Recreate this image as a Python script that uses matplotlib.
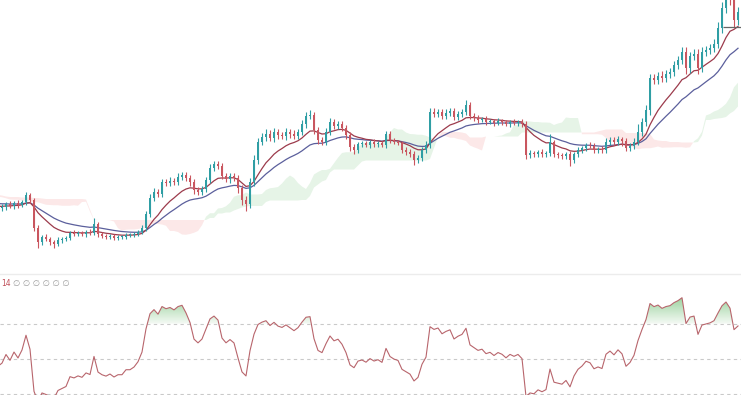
import numpy as np
import pandas as pd
import matplotlib
matplotlib.use("Agg")
import matplotlib.pyplot as plt
from matplotlib.path import Path

# closes before the visible window (warm-up for the indicators)
pre_closes = [108, 110, 107, 105, 109, 112, 110, 106, 104, 102,
              105, 103, 100, 98, 101, 99, 96, 94, 97, 95,
              93, 96, 94, 92, 95, 93, 90, 92, 94, 92]

closes = [93, 96, 94, 97, 95, 98, 105, 100, 72, 58,
          63, 61, 58, 56, 60, 61, 62, 67, 66, 67,
          66, 68, 67, 76, 66, 64, 63, 64, 62, 63,
          63, 65, 65, 66, 68, 72, 86, 102, 108, 106,
          118, 117, 119, 118, 123, 125, 122, 118, 110, 108,
          111, 120, 132, 136, 134, 124, 121, 124, 122, 112,
          100, 96, 118, 140, 158, 163, 166, 162, 168, 165,
          164, 168, 166, 164, 168, 176, 184, 185, 170, 160,
          158, 168, 178, 174, 176, 172, 165, 153, 150, 156,
          157, 155, 158, 156, 157, 155, 166, 160, 158, 157,
          150, 148, 146, 140, 142, 150, 155, 188, 186, 188,
          184, 187, 189, 183, 186, 188, 195, 184, 182, 180,
          181, 178, 179, 177, 179, 178, 176, 178, 177, 178,
          176, 145, 147, 146, 148, 146, 147, 158, 146, 145,
          144, 146, 140, 146, 150, 152, 155, 154, 150, 151,
          150, 158, 160, 158, 161, 159, 152, 154, 158, 168,
          178, 190, 222, 220, 224, 222, 226, 228, 235, 240,
          248, 232, 244, 246, 232, 248, 250, 252, 256, 272,
          292, 305, 300, 280, 288]

wick_up = [2, 3, 2, 3, 2, 3, 2, 2, 3, 2, 2, 3, 2, 2, 3, 2, 2, 3, 2, 2,
           3, 2, 2, 3, 2, 2, 3, 2, 2, 3,
           3, 2, 3, 2, 3, 2, 3, 2, 2, 3, 2, 3, 2, 2, 3, 2, 2, 2, 3, 2,
           2, 2, 3, 6, 2, 2, 2, 2, 2, 2, 2, 2, 2, 2, 2, 3, 3, 4, 4, 3,
           3, 3, 4, 3, 4, 3, 3, 3, 3, 3, 3, 3, 4, 3, 3, 3, 3, 3, 3, 3,
           3, 4, 4, 5, 4, 4, 5, 4, 4, 3, 3, 4, 3, 4, 3, 4, 4, 5, 3, 3,
           3, 4, 4, 3, 3, 3, 3, 3, 3, 2, 2, 2, 2, 3, 2, 2, 3, 3, 2, 2,
           2, 3, 3, 3, 3, 3, 4, 4, 4, 3, 3, 4, 3, 3, 3, 3, 5, 3, 3, 3,
           2, 3, 2, 2, 3, 2, 2, 2, 3, 2, 3, 3, 3, 2, 2, 3, 2, 8, 2, 2,
           2, 2, 3, 2, 3, 2, 2, 3, 3, 2, 3, 4, 3, 3, 3, 2, 3, 3, 4, 8,
           4, 5, 4, 4, 4, 5, 4, 4, 4, 4, 5, 5, 4, 5, 5, 5, 4, 4, 5, 6,
           6, 6, 6, 5, 5]

wick_dn = [3, 2, 2, 3, 2, 2, 3, 2, 3, 2, 3, 2, 2, 3, 2, 3, 2, 2, 3, 2,
           2, 3, 2, 2, 3, 2, 2, 3, 2, 2,
           3, 3, 2, 3, 3, 2, 3, 3, 3, 6, 3, 2, 3, 4, 2, 3, 2, 2, 2, 2,
           2, 3, 2, 2, 3, 2, 2, 2, 2, 2, 2, 2, 2, 2, 2, 2, 3, 3, 3, 3,
           3, 3, 3, 3, 3, 3, 3, 4, 4, 3, 3, 3, 3, 3, 3, 3, 3, 4, 3, 5,
           5, 7, 4, 4, 4, 3, 4, 3, 4, 4, 3, 4, 4, 3, 3, 3, 4, 3, 4, 4,
           3, 3, 3, 3, 3, 3, 4, 4, 4, 3, 3, 2, 3, 3, 3, 2, 3, 3, 2, 2,
           3, 3, 3, 5, 3, 3, 3, 3, 3, 3, 3, 3, 3, 3, 3, 3, 3, 3, 3, 3,
           2, 3, 2, 3, 2, 3, 2, 3, 2, 3, 3, 4, 3, 3, 3, 3, 3, 3, 3, 3,
           3, 3, 6, 3, 3, 3, 3, 2, 3, 3, 3, 3, 3, 3, 3, 5, 3, 3, 3, 3,
           4, 4, 5, 4, 4, 4, 4, 4, 4, 4, 4, 6, 5, 4, 6, 4, 4, 4, 4, 4,
           5, 5, 5, 8, 5]

price_line = 273

UP = "#2f9ea4"
DOWN = "#c9565f"

c = np.array(pre_closes + closes, dtype=float)
o = np.r_[pre_closes[0] - 1, c[:-1]]
hi = np.maximum(o, c) + np.array(wick_up)
lo = np.minimum(o, c) - np.array(wick_dn)
x = np.arange(len(c)) - len(pre_closes)
df = pd.DataFrame({"o": o, "h": hi, "l": lo, "c": c}, index=x)

# moving averages
ema_fast = df["c"].ewm(span=11, adjust=False).mean()
ema_slow = df["c"].ewm(span=22, adjust=False).mean()

# ichimoku cloud
disp = 14
tenkan = (df["h"].rolling(7, min_periods=1).max() + df["l"].rolling(7, min_periods=1).min()) / 2
kijun = (df["h"].rolling(20, min_periods=1).max() + df["l"].rolling(20, min_periods=1).min()) / 2
span_a = ((tenkan + kijun) / 2).shift(disp)
span_b = ((df["h"].rolling(32, min_periods=1).max() + df["l"].rolling(32, min_periods=1).min()) / 2).shift(disp)

# rsi 14 (wilder)
delta = df["c"].diff()
gain = delta.clip(lower=0).ewm(alpha=1 / 14, adjust=False).mean()
loss = (-delta.clip(upper=0)).ewm(alpha=1 / 14, adjust=False).mean()
rsi = 100 - 100 / (1 + gain / loss)

fig = plt.figure(figsize=(7.41, 3.95), dpi=100)
ax = fig.add_axes([0, 1 - 272 / 395, 1, 272 / 395])
ax2 = fig.add_axes([0, 0, 1, 119 / 395])

ax.fill_between(x, span_a, span_b, where=span_a >= span_b, interpolate=True,
                color="#e6f4e7", lw=0, zorder=1)
ax.fill_between(x, span_a, span_b, where=span_a < span_b, interpolate=True,
                color="#fce8e8", lw=0, zorder=1)

ax.plot(x, ema_slow, color="#5b5f9c", lw=0.9, zorder=2)
ax.plot(x, ema_fast, color="#9c3b4c", lw=0.9, zorder=2)

cols = np.where(df["c"] >= df["o"], UP, DOWN)
ax.vlines(x, df["l"], df["h"], colors=cols, lw=0.8, zorder=3)
body = np.maximum((df["c"] - df["o"]).abs(), 0.7)
ax.bar(x, body, bottom=np.minimum(df["o"], df["c"]), width=0.7, color=cols, lw=0, zorder=4)

ax.hlines(price_line, 180.3, 186, color="#666666", lw=0.9, zorder=5)

ax.set_xlim(-0.5, 184.75)
ax.set_ylim(28, 300)
ax.axis("off")

# rsi panel
for lvl in (70, 50, 30):
    ax2.axhline(lvl, color="#c9c9c9", lw=0.8, ls=(0, (3, 3)))
poly = ax2.fill_between(x, 70, rsi, where=rsi > 70, interpolate=True, color="none", lw=0)
grad = np.linspace(0, 1, 100).reshape(-1, 1)
cmap = matplotlib.colors.LinearSegmentedColormap.from_list("g", ["#f4faf4", "#6fbf73"])
im = ax2.imshow(grad, extent=[x[0], x[-1], 70, 90], origin="lower", aspect="auto",
                cmap=cmap, alpha=0.9, zorder=1)
clip = Path.make_compound_path(*poly.get_paths())
im.set_clip_path(clip, transform=ax2.transData)
ax2.plot(x, rsi, color="#b8656c", lw=0.8, zorder=3)
ax2.set_xlim(-0.5, 184.75)
ax2.set_ylim(29.5, 97)
ax2.axis("off")

fig.add_artist(plt.Line2D([0, 1], [1 - 274 / 395] * 2, color="#ececec", lw=1))
fig.text(1 / 741, 1 - 284 / 395, "14", color="#c0505a", fontsize=5.5, va="center")
fig.text(13 / 741, 1 - 284 / 395, "\u2205 \u2205 \u2205 \u2205 \u2205 \u2205", color="#9a9a9a",
         fontsize=6, va="center")

fig.savefig("out.png", dpi=100)
